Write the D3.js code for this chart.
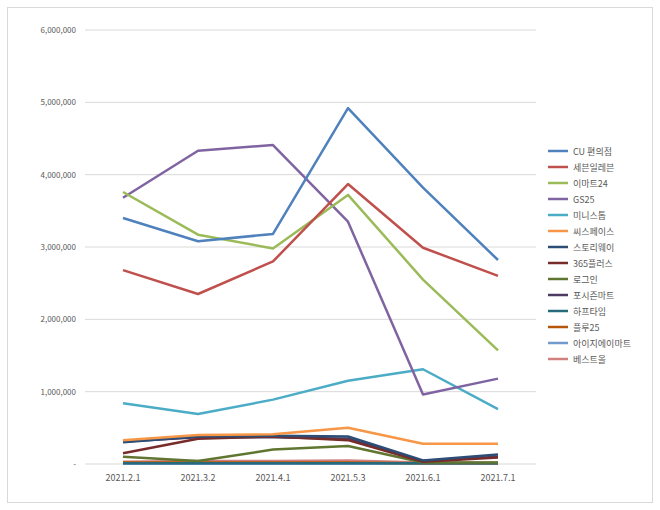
<!DOCTYPE html>
<html><head><meta charset="utf-8">
<script src="https://cdn.jsdelivr.net/npm/d3@7"></script>
<style>body{margin:0;background:#fff;font-family:"Noto Sans CJK KR","Noto Sans",sans-serif}</style>
</head><body><div id="chart"></div>
<script>
const dates = ['2021.2.1','2021.3.2','2021.4.1','2021.5.3','2021.6.1','2021.7.1'];
const names = ['CU 편의점','세븐일레븐','이마트24','GS25','미니스톱','씨스페이스','스토리웨이','365플러스','로그인','포시즌마트','하프타임','플루25','아이지에이마트','베스트올'];
const colors = ['#4f81bd','#c0504d','#9bbb59','#8064a2','#4bacc6','#f79646','#2c4d75','#772c2a','#5f7530','#4d3b62','#276a7c','#b65708','#729aca','#d0807e'];
const values = [
  [3400000,3080000,3180000,4920000,3820000,2820000],
  [2680000,2350000,2800000,3870000,2990000,2600000],
  [3760000,3170000,2980000,3720000,2550000,1570000],
  [3680000,4330000,4410000,3350000,960000,1180000],
  [840000,690000,890000,1150000,1310000,760000],
  [330000,400000,410000,500000,280000,280000],
  [300000,380000,390000,380000,50000,130000],
  [150000,350000,380000,330000,30000,90000],
  [100000,40000,200000,250000,20000,20000],
  [310000,370000,370000,350000,40000,100000],
  [10000,10000,10000,10000,10000,10000],
  [20000,20000,20000,20000,10000,10000],
  [5000,5000,5000,5000,5000,5000],
  [30000,40000,40000,50000,20000,20000]
];
const yTicks = [0,1000000,2000000,3000000,4000000,5000000,6000000];

const svg = d3.select('#chart').append('svg').attr('width',660).attr('height',510);
svg.append('rect').attr('x',7.5).attr('y',7.5).attr('width',645).attr('height',495)
  .attr('fill','#fff').attr('stroke','#d9d9d9');

const x = d3.scalePoint().domain(dates).range([123,498]).padding(0);
const y = d3.scaleLinear().domain([0,6000000]).range([464,30]);

const grid = svg.append('g');
yTicks.forEach(t => {
  grid.append('line').attr('x1',85).attr('x2',536).attr('y1',y(t)).attr('y2',y(t))
    .attr('stroke','#d9d9d9').attr('stroke-width',1);
  grid.append('text').attr('x',76).attr('y',y(t)+3).attr('text-anchor','end')
    .attr('font-size',8).attr('fill','#595959').text(t===0?'-':d3.format(',')(t));
});
dates.forEach(d => svg.append('text').attr('x',x(d)).attr('y',481).attr('text-anchor','middle')
  .attr('font-size',9).attr('fill','#595959').text(d));

const line = d3.line().x((v,i)=>x(dates[i])).y(v=>y(v));
for (let k = values.length-1; k >= 0; k--) {
  svg.append('path').attr('d',line(values[k])).attr('fill','none')
    .attr('stroke',colors[k]).attr('stroke-width',2.5).attr('stroke-linejoin','round');
}

const lg = svg.append('g');
names.forEach((n,i) => {
  const yy = 151 + i*16;
  lg.append('line').attr('x1',548).attr('x2',568).attr('y1',yy).attr('y2',yy)
    .attr('stroke',colors[i]).attr('stroke-width',2.5);
  lg.append('text').attr('x',573).attr('y',yy+3.5).attr('font-size',9).attr('fill','#595959').text(n);
});
</script></body></html>
